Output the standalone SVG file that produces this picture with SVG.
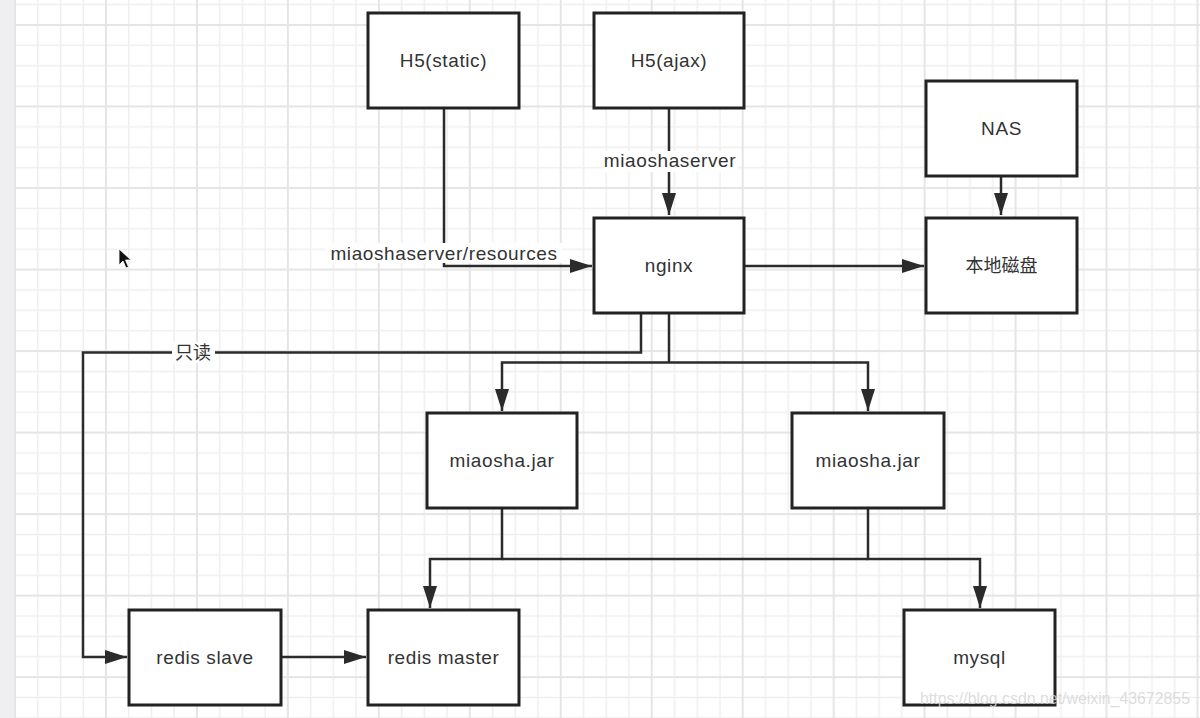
<svg xmlns="http://www.w3.org/2000/svg" width="1200" height="718" viewBox="0 0 1200 718">
<style>
.box{fill:#fff;stroke:#222;stroke-width:3}
.lbl{font-family:"Liberation Sans",Arial,sans-serif;font-size:19px;fill:#333;letter-spacing:0.6px;text-anchor:middle}
.cjk{font-family:"Liberation Sans","Noto Sans CJK SC",sans-serif;font-size:18px;fill:#333;text-anchor:middle}
.ln{fill:none;stroke:#2b2b2b;stroke-width:2.5}
.lblbg{fill:#fff}
</style>
<defs>
<pattern id="grid" patternUnits="userSpaceOnUse" x="13" y="23" width="90.96" height="81.52">
<g stroke="#efefef" stroke-width="1.5">
<line x1="24.74" y1="0" x2="24.74" y2="81.52"/>
<line x1="47.48" y1="0" x2="47.48" y2="81.52"/>
<line x1="70.22" y1="0" x2="70.22" y2="81.52"/>
<line x1="0" y1="22.38" x2="90.96" y2="22.38"/>
<line x1="0" y1="42.76" x2="90.96" y2="42.76"/>
<line x1="0" y1="63.14" x2="90.96" y2="63.14"/>
</g>
<g stroke="#e5e5e5" stroke-width="2">
<line x1="2" y1="0" x2="2" y2="81.52"/>
<line x1="0" y1="2" x2="90.96" y2="2"/>
</g>
</pattern>
<marker id="arr" markerUnits="userSpaceOnUse" markerWidth="24" markerHeight="16" refX="22" refY="7" orient="auto">
<path d="M0,0 L22,7 L0,14 Z" fill="#2b2b2b"/>
</marker>
</defs>
<rect x="0" y="0" width="1200" height="718" fill="#fff"/>
<rect x="14" y="0" width="1186" height="718" fill="url(#grid)"/>
<rect x="0" y="0" width="14" height="718" fill="#efeef1"/>

<g id="connectors">
<polyline class="ln" points="444,108 444,266 592,266" marker-end="url(#arr)"/>
<polyline class="ln" points="669,108 669,215" marker-end="url(#arr)"/>
<polyline class="ln" points="1001,176 1001,215" marker-end="url(#arr)"/>
<polyline class="ln" points="744,266 924,266" marker-end="url(#arr)"/>
<polyline class="ln" points="641,313 641,352.5 83,352.5 83,657 127,657" marker-end="url(#arr)"/>
<polyline class="ln" points="669,313 669,362.5"/>
<polyline class="ln" points="669,362.5 502,362.5 502,411" marker-end="url(#arr)"/>
<polyline class="ln" points="669,362.5 868,362.5 868,411" marker-end="url(#arr)"/>
<polyline class="ln" points="502,508 502,559 430,559 430,608" marker-end="url(#arr)"/>
<polyline class="ln" points="868,508 868,559 980,559 980,608" marker-end="url(#arr)"/>
<line class="ln" x1="502" y1="559" x2="868" y2="559"/>
<polyline class="ln" points="281,657 366,657" marker-end="url(#arr)"/>
<rect class="lblbg" x="326" y="243" width="236" height="20"/>
<text class="lbl" x="444" y="260">miaoshaserver/resources</text>
<rect class="lblbg" x="603" y="151" width="135" height="21"/>
<text class="lbl" x="670" y="167">miaoshaserver</text>
<rect class="lblbg" x="172" y="342" width="43" height="21"/>
<text class="cjk" x="193" y="359">只读</text>
</g>

<g id="h5static"><rect class="box" x="368" y="13" width="151" height="95"/><text class="lbl" x="443.5" y="67">H5(static)</text></g>
<g id="h5ajax"><rect class="box" x="594" y="13" width="150" height="95"/><text class="lbl" x="669" y="67">H5(ajax)</text></g>
<g id="nas"><rect class="box" x="926" y="81" width="151" height="95"/><text class="lbl" x="1001.5" y="135">NAS</text></g>
<g id="nginx"><rect class="box" x="594" y="218" width="150" height="95"/><text class="lbl" x="669" y="272">nginx</text></g>
<g id="disk"><rect class="box" x="926" y="218" width="151" height="95"/><text class="cjk" x="1001.5" y="272">本地磁盘</text></g>
<g id="jar1"><rect class="box" x="427" y="413" width="150" height="95"/><text class="lbl" x="502" y="467">miaosha.jar</text></g>
<g id="jar2"><rect class="box" x="792" y="413" width="152" height="95"/><text class="lbl" x="868" y="467">miaosha.jar</text></g>
<g id="redisslave"><rect class="box" x="129" y="610" width="152" height="95"/><text class="lbl" x="205" y="664">redis slave</text></g>
<g id="redismaster"><rect class="box" x="368" y="610" width="151" height="95"/><text class="lbl" x="443.5" y="664">redis master</text></g>
<g id="mysql"><rect class="box" x="904" y="610" width="151" height="95"/><text class="lbl" x="979.5" y="664">mysql</text></g>

<path d="M119,249 L119,265 L123,261 L126,268 L128.5,267 L125.5,260 L131,260 Z" fill="#111" stroke="#fff" stroke-width="0.8"/>
<text x="920" y="704" textLength="270" lengthAdjust="spacingAndGlyphs" font-family="Liberation Sans, Arial, sans-serif" font-size="17" fill="#d6d6d6" fill-opacity="0.85">https://blog.csdn.net/weixin_43672855</text>
</svg>
